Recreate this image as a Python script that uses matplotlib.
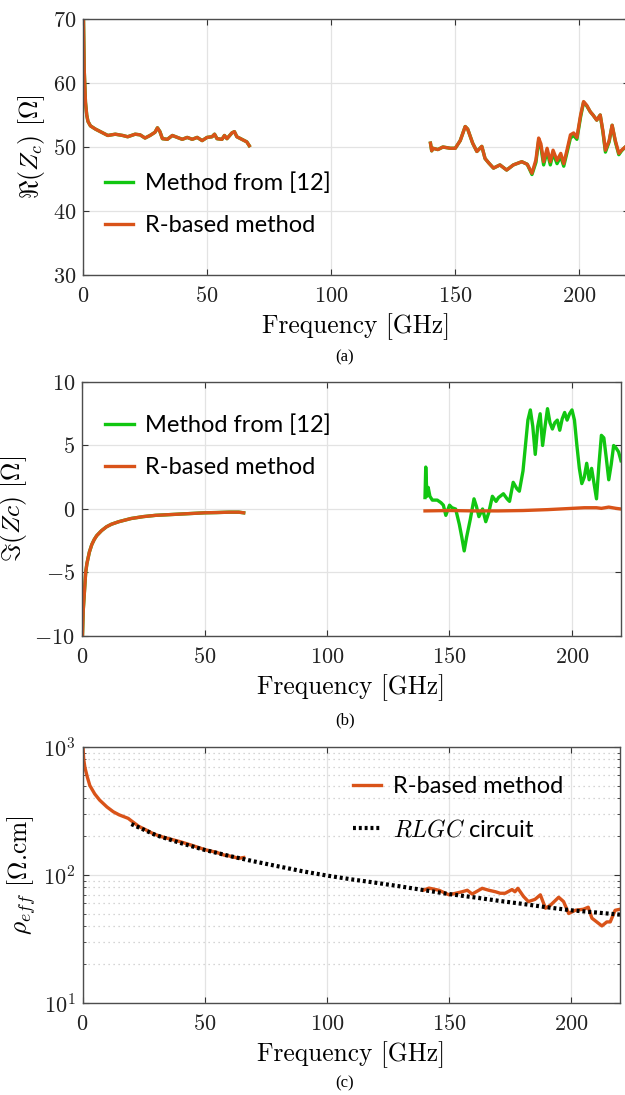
import numpy as np
import matplotlib
matplotlib.use("Agg")
import matplotlib.pyplot as plt
from matplotlib.ticker import LogLocator, NullFormatter

# ---------------- data ----------------
# (a) Real part of Zc
fa_left = [0.2, 0.5, 1, 1.5, 2, 3, 5, 8, 10, 13, 16, 18, 21, 23, 25, 27, 29, 30, 31, 32, 34, 36,
           38, 40, 42, 44, 46, 48, 50, 52, 53, 54, 56, 57, 58, 60, 61, 62, 64, 65, 66, 67]
re_left = [70, 62, 57, 55, 54, 53.3, 52.8, 52.2, 51.8, 52, 51.8, 51.6, 52, 51.9, 51.4, 51.8, 52.3,
           53, 52.4, 51.3, 51.2, 51.8, 51.5, 51.2, 51.5, 51.2, 51.5, 51.0, 51.5, 51.6, 52, 51.3,
           51.2, 51.8, 51.3, 52.2, 52.4, 51.6, 51.2, 51.0, 50.8, 50.2]
fa_right = [140, 140.5, 141, 143, 145, 148, 150, 152, 154, 155, 157, 158.7, 160.7, 162, 163.5,
            165.4, 168, 170.7, 173.4, 176.8, 179, 180.9, 182.5, 183.6, 184.5, 185.6, 187, 188.3,
            189.4, 191, 192.5, 193.7, 195, 196.4, 197.7, 199, 200.5, 201.7, 203, 204.4, 205.5,
            207, 208.4, 209.5, 210.5, 212, 213.2, 214.5, 215.9, 217, 218.5, 220]
re_r_orange = [50.6, 49.4, 49.8, 49.6, 50.0, 49.8, 49.8, 51.0, 53.2, 52.8, 50.6, 49.3, 50.1,
               48.2, 47.5, 46.7, 47.2, 46.4, 47.2, 47.7, 47.3, 45.9, 48.0, 51.4, 50.5, 47.7,
               49.8, 47.7, 49.5, 47.9, 49.0, 47.4, 49.5, 51.9, 52.2, 51.5, 55.0, 57.1, 56.5,
               55.5, 55.0, 54.2, 55.0, 52.5, 49.5, 51.0, 53.4, 51.0, 49.0, 49.5, 50.0, 50.5]
re_r_green = [50.6, 49.4, 49.8, 49.6, 50.0, 49.8, 49.8, 51.0, 53.2, 52.8, 50.6, 49.3, 50.1,
              48.2, 47.5, 46.7, 47.2, 46.4, 47.2, 47.7, 47.3, 45.7, 47.6, 51.0, 50.0, 47.2,
              49.3, 47.2, 49.0, 47.4, 48.5, 47.0, 49.1, 51.4, 51.8, 51.2, 54.7, 57.0, 56.4,
              55.5, 55.0, 54.2, 55.0, 52.3, 49.2, 50.8, 53.4, 50.8, 48.8, 49.4, 50.0, 50.5]

# (b) Imaginary part of Zc
fb_left = [0.2, 0.5, 1, 1.5, 2, 3, 4, 5, 6, 8, 10, 12, 15, 18, 20, 25, 30, 35, 40, 45, 50, 55,
           60, 64, 66]
im_left = [-10, -8, -6.5, -5, -4.3, -3.4, -2.8, -2.4, -2.1, -1.7, -1.4, -1.2, -1.0, -0.85, -0.75,
           -0.6, -0.5, -0.45, -0.4, -0.35, -0.3, -0.28, -0.25, -0.25, -0.3]
fb_right_orange = [140, 150, 160, 170, 180, 190, 200, 205, 210, 212, 215, 218, 220]
im_right_orange = [-0.15, -0.12, -0.15, -0.15, -0.12, -0.05, 0.05, 0.1, 0.1, 0.05, 0.15, 0.05, 0.0]
fb_right_green = [140, 140.3, 140.8, 141.3, 142, 143, 145, 146.5, 147.5, 148.5, 150, 151, 152.5,
                  154, 155, 156, 157, 158.5, 160, 161, 162, 163.5, 164.8, 166, 167.5, 169, 170,
                  172, 173.5, 174.5, 176, 177.5, 178.5, 180, 181, 182, 183, 184, 185, 186, 187,
                  188, 189, 190, 191, 192, 193, 194, 195, 196, 197, 198, 199, 200, 201, 202, 203,
                  204, 205, 206, 207, 208, 209, 210, 211, 212, 213, 214, 215, 216, 217, 218, 219,
                  220]
im_right_green = [0.9, 3.3, 1.0, 1.7, 1.0, 0.7, 0.7, 0.5, 0.3, -0.5, 0.3, 0.1, 0.0, -1.2, -2.2,
                  -3.3, -2.2, -0.8, 0.8, 0.2, -0.6, 0.0, -1.0, -0.3, 1.0, 0.6, 0.9, 1.2, 0.8, 0.6,
                  2.1, 1.6, 1.4, 3.0, 5.0, 7.0, 7.8, 6.5, 4.3, 6.5, 7.5, 5.0, 6.5, 7.9, 6.8, 6.3,
                  6.8, 7.0, 6.2, 7.1, 7.6, 7.0, 7.5, 7.8, 7.0, 5.0, 3.2, 2.0, 2.5, 3.6, 2.3, 3.2,
                  2.0, 0.8, 3.5, 5.8, 5.6, 4.0, 2.3, 3.5, 5.0, 4.8, 4.5, 3.8]

# (c) effective resistivity
fc_left = [0.2, 0.5, 1, 2, 3, 5, 7, 10, 12.6, 15, 18.7, 20, 23, 26, 29, 32, 35, 40, 45, 50, 55,
           58, 60, 62, 64, 66]
rho_left = [1000, 800, 690, 580, 500, 430, 385, 340, 312, 295, 277, 265, 240, 225, 210, 200, 193,
            182, 170, 158, 150, 143, 141, 138, 135, 137]
fc_right = [139.8, 141.8, 145.9, 150, 155.4, 157.5, 159.5, 163.6, 166.3, 169, 171, 173, 175.8,
            177, 178.2, 180.5, 182.5, 185.2, 187.4, 189.5, 191.5, 194.9, 196.9, 199, 201.7, 205,
            207, 208.5, 212.6, 214.6, 216, 218, 220]
rho_right = [76.4, 79, 76, 70, 74, 76, 71, 78.7, 76, 74, 72, 72, 77, 74, 78.7, 68, 62, 64.5, 70,
             55, 58, 67, 62, 50, 53, 54, 56, 46, 40, 43, 43, 53, 54]
fc_rlgc = [20, 30, 40, 50, 60, 70, 80, 90, 100, 110, 120, 130, 140, 150, 160, 170, 180, 190, 200,
           210, 220]
rho_rlgc = [250, 205, 178, 157, 141, 128, 117, 107, 99, 92.5, 87, 81.5, 76, 71, 67, 63, 59.5,
            56, 53, 51, 49]

# ---------------- style ----------------
plt.rcParams['mathtext.fontset'] = 'cm'
plt.rcParams['font.family'] = 'serif'
plt.rcParams['font.serif'] = ['cmr10', 'DejaVu Serif']
plt.rcParams['axes.formatter.use_mathtext'] = True
plt.rcParams['axes.unicode_minus'] = False

ORANGE = '#D95319'
GREEN = '#11C611'
LW = 2.4
TICK_FS = 16
LAB_FS = 18.3
LEG_FS = 17
LEG_FONT = 'Lato'

fig = plt.figure(figsize=(6.25, 10.95), dpi=100)
H = 1095.0
W = 625.0


def make_ax(left_px, right_px, top_px, bottom_px):
    return fig.add_axes([left_px / W, 1 - bottom_px / H, (right_px - left_px) / W,
                         (bottom_px - top_px) / H])


def style(ax):
    for s in ax.spines.values():
        s.set_color('#4d4d4d')
        s.set_linewidth(1.0)
    ax.tick_params(direction='in', top=True, right=True, length=4, width=0.8,
                   labelsize=TICK_FS, colors='#333333', labelcolor='#222222')
    ax.tick_params(axis='x', pad=8)
    ax.tick_params(axis='y', pad=5)
    ax.grid(True, which='major', color='#e3e3e3', linewidth=0.9)
    ax.set_axisbelow(True)


def add_legend(ax, x0, y0):
    ax.legend(loc='upper left', bbox_to_anchor=(x0, y0), frameon=False,
              prop={'family': [LEG_FONT, 'DejaVu Sans'], 'size': LEG_FS},
              handlelength=1.2, handletextpad=0.5, labelspacing=0.9,
              borderaxespad=0, borderpad=0)


# ---- (a)
ax1 = make_ax(83, 629, 19, 275)
style(ax1)
ax1.plot(fa_left, re_left, color=GREEN, lw=LW, label='Method from [12]')
ax1.plot(fa_right, re_r_green, color=GREEN, lw=LW)
ax1.plot(fa_left, re_left, color=ORANGE, lw=LW, label='R-based method')
ax1.plot(fa_right, re_r_orange, color=ORANGE, lw=LW)
ax1.set_xlim(0, 220)
ax1.set_ylim(30, 70)
ax1.set_xticks([0, 50, 100, 150, 200])
ax1.set_yticks([30, 40, 50, 60, 70])
ax1.set_xlabel('Frequency [GHz]', fontsize=LAB_FS, labelpad=5)
ax1.set_ylabel(r'$\Re(Z_c)$ [$\Omega$]', fontsize=LAB_FS, labelpad=4)
add_legend(ax1, 0.040, 0.40)
fig.text(345 / W, 1 - 357 / H, '(a)', ha='center', va='center', fontsize=12,
         family='Liberation Serif')

# ---- (b)
ax2 = make_ax(82, 621, 382, 636)
style(ax2)
ax2.plot(fb_left, im_left, color=GREEN, lw=LW, label='Method from [12]')
ax2.plot(fb_right_green, im_right_green, color=GREEN, lw=LW)
ax2.plot(fb_left, im_left, color=ORANGE, lw=LW, label='R-based method')
ax2.plot(fb_right_orange, im_right_orange, color=ORANGE, lw=LW)
ax2.set_xlim(0, 220)
ax2.set_ylim(-10, 10)
ax2.set_xticks([0, 50, 100, 150, 200])
ax2.set_yticks([-10, -5, 0, 5, 10])
ax2.set_xlabel('Frequency [GHz]', fontsize=LAB_FS, labelpad=5)
ax2.set_ylabel(r'$\Im(Zc)$ [$\Omega$]', fontsize=LAB_FS, labelpad=4)
add_legend(ax2, 0.043, 0.872)
fig.text(345 / W, 1 - 720 / H, '(b)', ha='center', va='center', fontsize=12,
         family='Liberation Serif')

# ---- (c)
ax3 = make_ax(82.5, 620, 747, 1003)
style(ax3)
ax3.set_yscale('log')
ax3.yaxis.set_minor_locator(LogLocator(base=10, subs=np.arange(2, 10)))
ax3.yaxis.set_minor_formatter(NullFormatter())
ax3.tick_params(which='minor', direction='in', right=True, length=2.5, width=0.6,
                colors='#333333')
ax3.yaxis.grid(True, which='minor', color='#c8c8c8', linestyle=(0, (1, 3)), linewidth=0.9)
ax3.plot(fc_left, rho_left, color=ORANGE, lw=LW, label='R-based method')
ax3.plot(fc_right, rho_right, color=ORANGE, lw=LW)
ax3.plot(fc_rlgc, rho_rlgc, color='black', lw=3, linestyle=(0, (0.7, 0.7)),
         label=r'$RLGC$ circuit')
ax3.set_xlim(0, 220)
ax3.set_ylim(10, 1000)
ax3.set_xticks([0, 50, 100, 150, 200])
ax3.set_xlabel('Frequency [GHz]', fontsize=LAB_FS, labelpad=5)
ax3.set_ylabel(r'$\rho_{eff}$ [$\Omega$.cm]', fontsize=LAB_FS, labelpad=4)
add_legend(ax3, 0.503, 0.885)
fig.text(345 / W, 1 - 1083 / H, '(c)', ha='center', va='center', fontsize=12,
         family='Liberation Serif')

fig.savefig('out.png', dpi=100)
